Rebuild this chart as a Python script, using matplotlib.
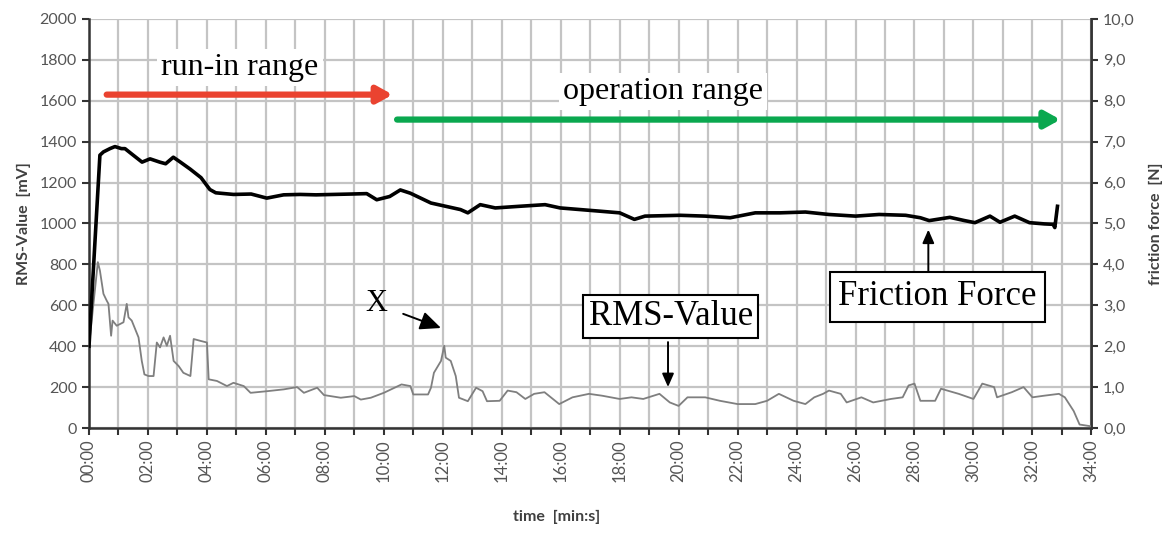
import matplotlib
matplotlib.use("Agg")
import numpy as np
import matplotlib.pyplot as plt
from matplotlib.ticker import FuncFormatter, MultipleLocator

# time in minutes
t_rms = [0.0, 0.3, 0.37, 0.49, 0.6, 0.66, 0.75, 0.8, 0.94, 1.17, 1.28, 1.34, 1.45, 1.68,
         1.79, 1.88, 2.02, 2.19, 2.3, 2.41, 2.53, 2.64, 2.75, 2.87, 3.04, 3.2, 3.44, 3.55,
         3.78, 4.0, 4.06, 4.34, 4.68, 4.9, 5.25, 5.48, 6.04, 6.61, 7.06, 7.29, 7.74, 7.97,
         8.54, 9.0, 9.22, 9.56, 10.0, 10.6, 10.9, 11.0, 11.5, 11.6, 11.7, 11.94, 12.05, 12.1,
         12.27, 12.44, 12.55, 12.85, 13.13, 13.35, 13.5, 13.93, 14.2, 14.5, 14.8, 15.1,
         15.45, 15.95, 16.4, 16.96, 17.4, 18.0, 18.4, 18.8, 19.35, 19.7, 20.0, 20.3, 20.9,
         21.4, 22.0, 22.6, 23.0, 23.4, 23.9, 24.3, 24.6, 24.9, 25.1, 25.5, 25.7, 26.2, 26.6,
         27.2, 27.6, 27.8, 28.0, 28.2, 28.7, 28.9, 29.5, 30.0, 30.3, 30.7, 30.8, 31.3, 31.7,
         32.0, 32.4, 32.9, 33.1, 33.4, 33.6, 34.0]
rms = [400, 811, 770, 656, 623, 607, 451, 525, 500, 517, 607, 541, 525, 443,
       328, 262, 254, 254, 418, 394, 443, 402, 451, 328, 303, 270, 254, 435,
       426, 418, 238, 230, 205, 221, 205, 172, 180, 189, 200, 172, 197, 161,
       148, 156, 139, 148, 172, 213, 205, 164, 164, 197, 270, 328, 402, 344,
       328, 254, 148, 131, 197, 180, 131, 133, 183, 175, 142, 167,
       175, 117, 150, 167, 158, 142, 150, 142, 167, 125, 108, 150, 150,
       133, 117, 117, 133, 167, 133, 117, 150, 167, 183, 167, 125, 150, 125,
       142, 150, 208, 217, 133, 133, 192, 167, 142, 217, 200, 150, 175, 200,
       150, 158, 167, 150, 83, 17, 8]

t_ff = [0.0, 0.37, 0.49, 0.71, 0.88, 1.1, 1.22, 1.5, 1.8, 2.07, 2.4, 2.6, 2.86, 3.1,
        3.43, 3.8, 4.1, 4.3, 4.9, 5.5, 6.03, 6.6, 7.16, 7.7, 8.29, 8.9, 9.42, 9.76,
        10.2, 10.56, 10.9, 11.6, 12.1, 12.6, 12.85, 13.27, 13.78, 14.6, 15.47, 15.98,
        16.66, 17.34, 18.0, 18.5, 18.86, 20.05, 20.9, 21.75, 22.6, 23.44, 24.3, 25.1,
        26.0, 26.8, 27.7, 28.2, 28.5, 29.2, 29.7, 30.05, 30.56, 30.9, 31.4, 31.9,
        32.4, 32.7, 32.76, 32.85]
friction = [2.0, 6.67, 6.75, 6.83, 6.88, 6.83, 6.83, 6.67, 6.5, 6.58, 6.5, 6.46, 6.62, 6.5,
            6.33, 6.12, 5.83, 5.75, 5.71, 5.72, 5.62, 5.7, 5.71, 5.7, 5.71, 5.72, 5.73, 5.58,
            5.66, 5.82, 5.74, 5.5, 5.42, 5.34, 5.26, 5.46, 5.38, 5.42, 5.46, 5.38,
            5.34, 5.30, 5.26, 5.10, 5.18, 5.2, 5.18, 5.14, 5.26, 5.26, 5.28, 5.22,
            5.18, 5.22, 5.2, 5.14, 5.07, 5.15, 5.07, 5.02, 5.18, 5.03, 5.18, 5.02,
            4.99, 4.98, 4.9, 5.42]

MV_PER_N = 200  # right axis: 10 N full scale against 2000 mV

tick_col = "#555555"
grid_col = "#c4c4c4"
serif = "Liberation Serif"

fig = plt.figure(figsize=(11.71, 5.34), dpi=100)
ax = fig.add_axes([0.076, 0.1985, 0.856, 0.766])

ax.set_xlim(0, 34)
ax.set_ylim(0, 2000)
ax.xaxis.set_major_locator(MultipleLocator(2))
ax.xaxis.set_minor_locator(MultipleLocator(1))
ax.yaxis.set_major_locator(MultipleLocator(200))
ax.xaxis.set_major_formatter(FuncFormatter(lambda v, p: f"{int(v):02d}:00"))

# grid lines at the tick positions (every minute, every 200 mV)
for v in list(ax.xaxis.get_majorticklocs()) + list(ax.xaxis.get_minorticklocs()):
    ax.axvline(v, color=grid_col, lw=1.6, zorder=0.5)
for v in ax.yaxis.get_majorticklocs():
    ax.axhline(v, color=grid_col, lw=1.6, zorder=0.5)

ax.plot(t_rms, rms, color="#7f7f7f", lw=1.3, zorder=3)
ax.plot(t_ff, np.array(friction) * MV_PER_N, color="black", lw=2.6, zorder=4)

sec = ax.secondary_yaxis("right", functions=(lambda y: y / MV_PER_N, lambda n: n * MV_PER_N))
sec.yaxis.set_major_locator(MultipleLocator(1))
sec.yaxis.set_major_formatter(FuncFormatter(lambda v, p: f"{v:.1f}".replace(".", ",")))

ax.spines["top"].set_visible(False)
for s in ("left", "right", "bottom"):
    ax.spines[s].set_color("#333333")
    ax.spines[s].set_linewidth(1.8)
sec.spines["right"].set_color("#333333")
sec.spines["right"].set_linewidth(1.8)

for a in (ax, sec):
    a.tick_params(which="both", direction="out", length=5, width=1.5, color="#333333",
                  labelcolor=tick_col, labelsize=11.5)
ax.tick_params(axis="x", labelrotation=90, labelsize=12)
for lbl in ax.get_xticklabels() + ax.get_yticklabels() + sec.get_yticklabels():
    lbl.set_family("Lato")

lab = dict(family="Lato", weight="bold", color="#404040", fontsize=11.5)
ax.set_ylabel("RMS-Value  [mV]", labelpad=6, **lab)
sec.set_ylabel("friction force  [N]", labelpad=10, **lab)
ax.set_xlabel("time  [min:s]", **lab)
ax.xaxis.set_label_coords(0.467, -0.2)

# range arrows
ax.annotate("", xy=(10.3, 1630), xytext=(0.6, 1630),
            arrowprops=dict(arrowstyle="-|>,head_length=0.9,head_width=0.5", lw=4.5,
                            color="#ea4330", shrinkA=0, shrinkB=0))
ax.annotate("", xy=(32.95, 1508), xytext=(10.45, 1508),
            arrowprops=dict(arrowstyle="-|>,head_length=0.9,head_width=0.5", lw=4.5,
                            color="#0aa84f", shrinkA=0, shrinkB=0))
ax.text(5.12, 1762, "run-in range", family=serif, fontsize=23, ha="center", va="center",
        bbox=dict(facecolor="white", edgecolor="none", pad=3))
ax.text(19.46, 1645, "operation range", family=serif, fontsize=23, ha="center", va="center",
        bbox=dict(facecolor="white", edgecolor="none", pad=3))

# callouts
ax.annotate("X", xy=(11.94, 489), xytext=(9.75, 607), family=serif, fontsize=22,
            ha="center", va="center",
            arrowprops=dict(arrowstyle="-|>,head_length=0.9,head_width=0.4", lw=1.4,
                            color="black", shrinkA=10, shrinkB=0, mutation_scale=14))
ax.annotate("", xy=(19.64, 200), xytext=(19.64, 420),
            arrowprops=dict(arrowstyle="-|>,head_length=0.8,head_width=0.35", lw=1.4,
                            color="black", shrinkA=0, shrinkB=0))
ax.text(19.73, 545, "RMS-Value", family=serif, fontsize=25, ha="center", va="center",
        bbox=dict(boxstyle="square,pad=0.15", facecolor="white", edgecolor="black", lw=1.5))
ax.annotate("", xy=(28.47, 970), xytext=(28.47, 750),
            arrowprops=dict(arrowstyle="-|>,head_length=0.8,head_width=0.35", lw=1.4,
                            color="black", shrinkA=0, shrinkB=0))
ax.text(28.78, 641, "Friction Force", family=serif, fontsize=25, ha="center", va="center",
        bbox=dict(boxstyle="square,pad=0.25", facecolor="white", edgecolor="black", lw=1.5))

fig.savefig("out.png", dpi=100)
